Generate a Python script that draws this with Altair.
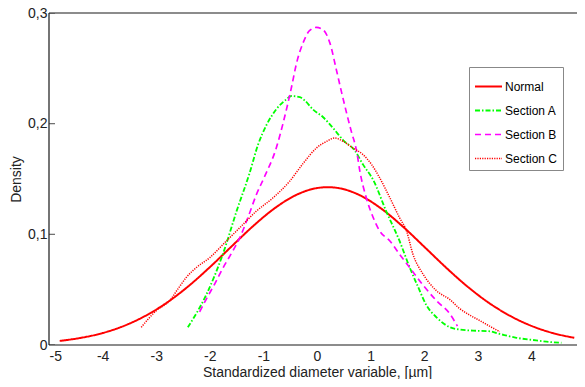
import altair as alt
import pandas as pd

# ---- data ----
series_names = ["Normal", "Section A", "Section B", "Section C"]

normal_x = [-4.8, -4.4, -4.0, -3.6, -3.2, -2.8, -2.4, -2.0, -1.6, -1.2, -0.8, -0.4, 0.0,
            0.2, 0.4, 0.8, 1.2, 1.6, 2.0, 2.4, 2.8, 3.2, 3.6, 4.0, 4.4, 4.8]
normal_y = [0.0037, 0.0065, 0.0108, 0.0173, 0.0264, 0.0383, 0.0531, 0.0703, 0.0888, 0.1071,
            0.1232, 0.1353, 0.1418, 0.1426, 0.1418, 0.1353, 0.1232, 0.1071, 0.0888, 0.0703,
            0.0531, 0.0383, 0.0264, 0.0173, 0.0108, 0.0065]

secA_x = [-2.41, -2.06, -1.75, -1.50, -1.26, -1.10, -0.94, -0.76, -0.57, -0.48, -0.32, -0.23,
          -0.08, 0.11, 0.30, 0.49, 0.70, 0.86, 1.05, 1.29, 1.54, 1.73, 1.89, 2.04, 2.23, 2.48,
          2.66, 2.91, 3.20, 3.41, 3.72, 4.03, 4.28, 4.56]
secA_y = [0.016, 0.046, 0.083, 0.121, 0.155, 0.181, 0.199, 0.213, 0.222, 0.225, 0.224, 0.221,
          0.213, 0.206, 0.196, 0.185, 0.176, 0.163, 0.149, 0.121, 0.094, 0.070, 0.052, 0.036,
          0.025, 0.016, 0.014, 0.013, 0.0125, 0.010, 0.0065, 0.0045, 0.003, 0.002]

secB_x = [-2.19, -2.06, -1.91, -1.75, -1.57, -1.44, -1.29, -1.13, -0.98, -0.76, -0.63, -0.48,
          -0.38, -0.26, -0.14, -0.01, 0.11, 0.24, 0.36, 0.46, 0.55, 0.64, 0.74, 0.80, 0.92,
          1.05, 1.17, 1.36, 1.54, 1.73, 1.98, 2.23, 2.48, 2.62]
secB_y = [0.030, 0.042, 0.055, 0.070, 0.085, 0.097, 0.115, 0.136, 0.152, 0.178, 0.201, 0.232,
          0.255, 0.273, 0.284, 0.287, 0.285, 0.273, 0.249, 0.228, 0.210, 0.193, 0.175, 0.157,
          0.133, 0.115, 0.103, 0.094, 0.082, 0.070, 0.054, 0.040, 0.028, 0.017]

secC_x = [-3.28, -3.0, -2.75, -2.59, -2.44, -2.25, -2.0, -1.69, -1.44, -1.13, -0.82, -0.51,
          -0.26, -0.01, 0.18, 0.33, 0.49, 0.67, 0.86, 1.02, 1.17, 1.36, 1.54, 1.67, 1.79,
          1.98, 2.23, 2.48, 2.66, 2.85, 3.04, 3.22, 3.41]
secC_y = [0.016, 0.031, 0.040, 0.051, 0.061, 0.070, 0.079, 0.094, 0.106, 0.121, 0.133, 0.148,
          0.164, 0.178, 0.184, 0.187, 0.184, 0.178, 0.172, 0.163, 0.151, 0.133, 0.115, 0.103,
          0.082, 0.064, 0.049, 0.041, 0.033, 0.027, 0.022, 0.017, 0.012]

x_ticks = [-5, -4, -3, -2, -1, 0, 1, 2, 3, 4, 5]
y_ticks = [0, 0.1, 0.2, 0.3]
x_domain = [-5, 5]
y_domain = [0, 0.3]

rows = []
for name, xs_, ys_ in zip(series_names,
                          [normal_x, secA_x, secB_x, secC_x],
                          [normal_y, secA_y, secB_y, secC_y]):
    for i, (a, b) in enumerate(zip(xs_, ys_)):
        rows.append({"series": name, "x": a, "y": b, "order": i})
df = pd.DataFrame(rows)

# tick positions on the four edges (inward ticks, MATLAB style)
xt = pd.DataFrame([{"x": v, "y": y_domain[0]} for v in x_ticks] +
                  [{"x": v, "y": y_domain[1]} for v in x_ticks])
yt = pd.DataFrame([{"x": x_domain[0], "y": v} for v in y_ticks] +
                  [{"x": x_domain[1], "y": v} for v in y_ticks])
# box outline (top, left, bottom edges)
frame = pd.DataFrame({"x": [x_domain[1], x_domain[0], x_domain[0], x_domain[1]],
                      "y": [y_domain[1], y_domain[1], y_domain[0], y_domain[0]],
                      "k": [0, 1, 2, 3]})

FONT = "Liberation Sans"
TXT = "#222222"
W_VIEW = 528      # visible part of the plot (the right edge runs off the page)
W_FULL = 536      # full axis length from -5 to 5
H = 332

xs = alt.Scale(domain=x_domain, nice=False, zero=False, range=[0, W_FULL])
ys = alt.Scale(domain=y_domain, nice=False, zero=False)

colors = ["#ff0000", "#00ff00", "#ff00ff", "#ff0000"]
dashes = [[1, 0], [5, 2, 1.5, 2], [6, 4], [1.2, 1.2]]
widths = [2, 1.5, 2, 1.5]

leg = alt.Legend(orient="none", legendX=420, legendY=54, title=None,
                 symbolType="stroke", symbolSize=729, labelFontSize=12,
                 labelFont=FONT, labelColor="black", labelOffset=2, padding=5,
                 rowPadding=3, strokeColor="#888888", fillColor="white",
                 cornerRadius=0)

ylabel_expr = "datum.value == 0 ? '0' : replace(format(datum.value, '.1f'), '.', ',')"

lines = alt.Chart(df).mark_line(interpolate="monotone").encode(
    x=alt.X("x:Q", scale=xs,
            axis=alt.Axis(orient="bottom", values=x_ticks, ticks=False, tickSize=0,
                          domain=False, grid=False,
                          labelExpr="datum.value + ''",
                          labelFont=FONT, labelFontSize=14, labelColor=TXT,
                          labelPadding=4, title="Standardized diameter variable, [µm]",
                          titleFont=FONT, titleFontSize=14, titleFontWeight="normal",
                          titleColor=TXT, titlePadding=2)),
    y=alt.Y("y:Q", scale=ys,
            axis=alt.Axis(orient="left", values=y_ticks, ticks=False, tickSize=0,
                          domain=False, grid=False,
                          labelExpr=ylabel_expr,
                          labelFont=FONT, labelFontSize=14, labelColor=TXT,
                          labelPadding=2, title="Density", titleFont=FONT,
                          titleFontSize=14, titleFontWeight="normal",
                          titleColor=TXT, titlePadding=4)),
    color=alt.Color("series:N", scale=alt.Scale(domain=series_names, range=colors), legend=leg),
    strokeDash=alt.StrokeDash("series:N", scale=alt.Scale(domain=series_names, range=dashes), legend=leg),
    strokeWidth=alt.StrokeWidth("series:N", scale=alt.Scale(domain=series_names, range=widths), legend=leg),
    order="order:Q",
)

box = alt.Chart(frame).mark_line(stroke="#1a1a1a", color="#1a1a1a", strokeWidth=1.2,
                                 strokeDash=[1, 0], interpolate="linear").encode(
    x=alt.X("x:Q", scale=xs), y=alt.Y("y:Q", scale=ys), order="k:Q"
)

xticks_m = alt.Chart(xt).mark_rule(stroke="#262626", strokeWidth=1.2).encode(
    x=alt.X("x:Q", scale=xs), y=alt.Y("y:Q", scale=ys),
    y2=alt.Y2("y:Q"),
)

yticks_m = alt.Chart(yt).mark_tick(orient="horizontal", size=12, thickness=1.2,
                                   fill="#262626", color="#262626", clip=True).encode(
    x=alt.X("x:Q", scale=xs), y=alt.Y("y:Q", scale=ys)
)

chart = alt.layer(lines, box, yticks_m).properties(
    width=W_VIEW, height=H,
    autosize=alt.AutoSizeParams(type="none"),
    padding={"left": 41, "top": 5, "right": 0, "bottom": 34},
    background="white",
).configure_view(strokeWidth=0)

chart.save("out.html", embed_options={"renderer": "svg", "actions": False})
